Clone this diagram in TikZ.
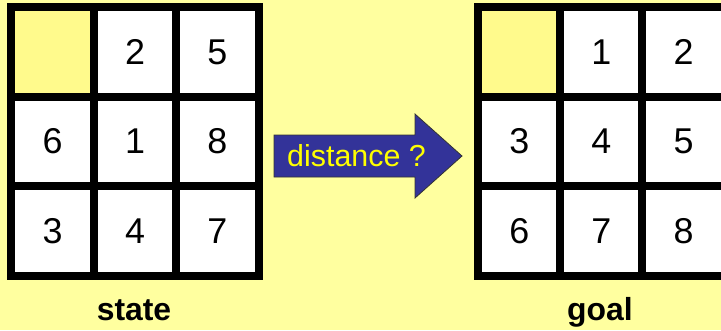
\documentclass[tikz,border=0pt]{standalone}
\usepackage{fontspec}
\setmainfont{Liberation Sans}
\definecolor{bgyellow}{HTML}{FFFF9F}
\definecolor{blankcell}{HTML}{FFFA8C}
\definecolor{arrowblue}{HTML}{333399}
\definecolor{textyellow}{HTML}{FFFF00}
\tikzset{
  cell/.style={draw=black, line width=8bp, fill=white, minimum width=82.5bp, minimum height=89.5bp,
    inner sep=0pt, outer sep=0pt, font=\fontsize{36}{42}\selectfont},
  blank/.style={cell, fill=blankcell},
  caption/.style={anchor=base, font=\fontsize{32}{38}\selectfont\bfseries},
  arrowshape/.style={draw=black!80, line width=0.8bp, fill=arrowblue},
  arrowtext/.style={anchor=base, text=textyellow, font=\fontsize{30.5}{36}\selectfont}
}
\begin{document}
\begin{tikzpicture}[x=1bp,y=-1bp]
\fill[bgyellow] (0,0) rectangle (721,330);
\useasboundingbox (0,0) rectangle (721,330);
% state grid
\node[blank] (s11) at (52.5,52) {};
\node[cell]  (s12) at (135,52) {2};
\node[cell]  (s13) at (217.3,52) {5};
\node[cell]  (s21) at (52.5,141.5) {6};
\node[cell]  (s22) at (135,141.5) {1};
\node[cell]  (s23) at (217.3,141.5) {8};
\node[cell]  (s31) at (52.5,231) {3};
\node[cell]  (s32) at (135,231) {4};
\node[cell]  (s33) at (217.3,231) {7};
% goal grid
\node[blank] (g11) at (519.3,52) {};
\node[cell]  (g12) at (601.4,52) {1};
\node[cell]  (g13) at (683.5,52) {2};
\node[cell]  (g21) at (519.3,141.5) {3};
\node[cell]  (g22) at (601.4,141.5) {4};
\node[cell]  (g23) at (683.5,141.5) {5};
\node[cell]  (g31) at (519.3,231) {6};
\node[cell]  (g32) at (601.4,231) {7};
\node[cell]  (g33) at (683.5,231) {8};
% arrow
\draw[arrowshape] (274,135) -- (415,135) -- (415,114) -- (462,156) -- (415,198) -- (415,177) -- (274,177) -- cycle;
\node[arrowtext] (dist) at (356.5,166.7) {distance ?};
% captions
\node[caption] (state) at (134,320) {state};
\node[caption] (goal) at (600,320) {goal};
\end{tikzpicture}
\end{document}
